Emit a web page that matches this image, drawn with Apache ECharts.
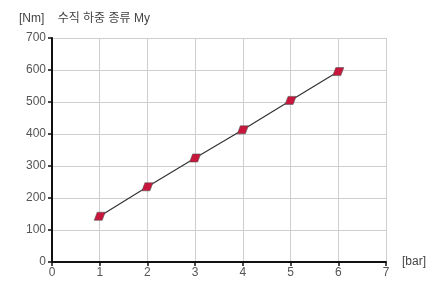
<!DOCTYPE html>
<html>
<head>
<meta charset="utf-8">
<script src="https://cdn.jsdelivr.net/npm/echarts@6/dist/echarts.min.js"></script>
<style>
  html, body { margin: 0; padding: 0; background: #fff; }
  #chart { width: 446px; height: 282px; }
</style>
</head>
<body>
<div id="chart"></div>
<script>
var pressure = [1, 2, 3, 4, 5, 6];
var moment = [143, 235, 325, 413, 505, 595];

var chart = echarts.init(document.getElementById('chart'));
var points = [];
for (var i = 0; i < pressure.length; i++) {
  points.push([pressure[i], moment[i]]);
}
var font = 'Helvetica, Arial, "Noto Sans CJK KR", sans-serif';
chart.setOption({
  animation: false,
  textStyle: { fontFamily: font },
  title: {
    text: '[Nm]    수직 하중 종류 My',
    left: 14, top: 8,
    textStyle: { fontSize: 12, fontWeight: 'normal', color: '#444', fontFamily: font }
  },
  grid: { left: 52, right: 60, top: 38, bottom: 20, containLabel: false },
  xAxis: {
    type: 'value', min: 0, max: 7, interval: 1,
    name: '[bar]', nameLocation: 'end', nameGap: 16,
    nameTextStyle: { color: '#444', fontSize: 12, verticalAlign: 'middle' },
    axisLine: { onZero: false, lineStyle: { color: '#111', width: 2 } },
    axisTick: { show: true, length: 4, lineStyle: { color: '#111', width: 1.5 } },
    axisLabel: { color: '#555', fontSize: 12, margin: 5 },
    splitLine: { show: true, lineStyle: { color: '#cfcfcf', width: 1 } }
  },
  yAxis: {
    type: 'value', min: 0, max: 700, interval: 100,
    axisLine: { show: true, lineStyle: { color: '#111', width: 2 } },
    axisTick: { show: true, length: 4, lineStyle: { color: '#111', width: 1.5 } },
    axisLabel: { color: '#555', fontSize: 12, margin: 6 },
    splitLine: { show: true, lineStyle: { color: '#cfcfcf', width: 1 } }
  },
  series: [{
    type: 'line',
    data: points,
    lineStyle: { color: '#333', width: 1.2 },
    symbol: 'path://M3,0 L11,0 L8,8 L0,8 Z',
    symbolSize: [11, 8],
    itemStyle: { color: '#c8163c', borderColor: '#555', borderWidth: 0.6 }
  }]
});
</script>
</body>
</html>
